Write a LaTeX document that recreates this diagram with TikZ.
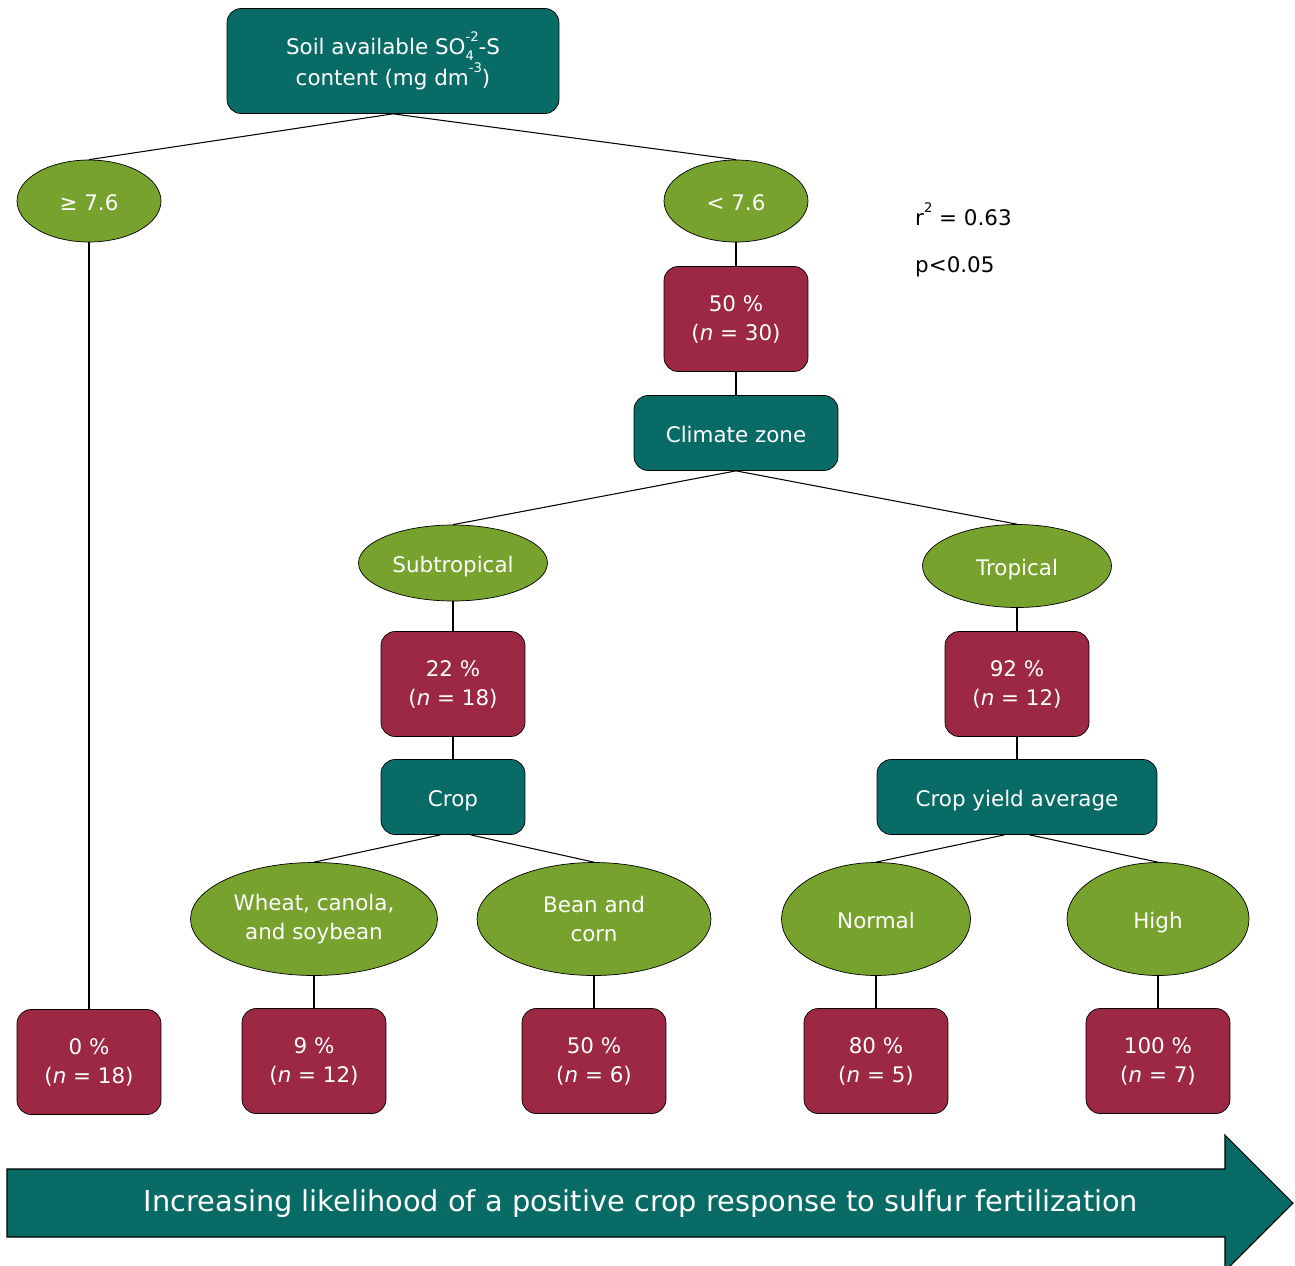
\documentclass[tikz,border=0pt]{standalone}
\usepackage{fontspec}
\setmainfont{DejaVu Sans}
\usetikzlibrary{shapes.geometric}
\definecolor{treeteal}{HTML}{086B66}
\definecolor{treegreen}{HTML}{78A22E}
\definecolor{treered}{HTML}{9C2843}
\newcommand{\upidx}[1]{\raisebox{0.62em}{\fontsize{7.5}{8}\selectfont #1}}
\newcommand{\lowidx}[1]{\raisebox{-0.28em}{\fontsize{7.5}{8}\selectfont #1}}
\begin{document}
\begin{tikzpicture}[x=0.02cm,y=-0.02cm,
every node/.style={font=\fontsize{12.2}{16.5}\selectfont,text=white,align=center},
oneline/.style={text height=11.2pt,text depth=0pt},
factor/.style={draw=black,fill=treeteal,rounded corners=8pt,minimum height=1.5cm,inner sep=0pt},
split/.style={ellipse,draw=black,fill=treegreen,inner sep=0pt},
result/.style={draw=black,fill=treered,rounded corners=8pt,minimum width=2.88cm,minimum height=2.1cm,inner sep=0pt},
link/.style={draw=black,line width=0.6pt}]
\useasboundingbox (0,0) rectangle (1295,1265);
\node [factor,minimum width=6.64cm,minimum height=2.1cm] (soil) at (393,61) {Soil available SO\rlap{\lowidx{4}}\upidx{-2}-S\\content (mg dm\upidx{-3})};
\node [split,oneline,minimum width=2.88cm,minimum height=1.64cm] (hi) at (89,201) {≥ 7.6};
\node [split,oneline,minimum width=2.88cm,minimum height=1.64cm] (lo) at (736,201) {< 7.6};
\node [text=black,anchor=west] (rsq) at (909,214) {r\upidx{2} = 0.63};
\node [text=black,anchor=west] (pval) at (909,267) {p<0.05};
\node [result] (lores) at (736,319) {50 \%\\(\textit{n} = 30)};
\node [factor,oneline,minimum width=4.08cm] (climate) at (736,433) {Climate zone};
\node [split,oneline,minimum width=3.78cm,minimum height=1.52cm] (subtrop) at (453,563) {Subtropical};
\node [split,oneline,minimum width=3.78cm,minimum height=1.66cm] (trop) at (1017,566) {Tropical};
\node [result] (subres) at (453,684) {22 \%\\(\textit{n} = 18)};
\node [result] (tropres) at (1017,684) {92 \%\\(\textit{n} = 12)};
\node [factor,oneline,minimum width=2.88cm] (crop) at (453,797) {Crop};
\node [factor,oneline,minimum width=5.6cm] (yield) at (1017,797) {Crop yield average};
\node [split,minimum width=4.94cm,minimum height=2.26cm] (wheat) at (314,919) {Wheat, canola,\\and soybean};
\node [split,minimum width=4.68cm,minimum height=2.26cm] (bean) at (594,919) {Bean and\\corn};
\node [split,oneline,minimum width=3.78cm,minimum height=2.26cm] (normal) at (876,919) {Normal};
\node [split,oneline,minimum width=3.64cm,minimum height=2.26cm] (high) at (1158,919) {High};
\node [result] (hires) at (89,1062) {0 \%\\(\textit{n} = 18)};
\node [result] (wheatres) at (314,1061) {9 \%\\(\textit{n} = 12)};
\node [result] (beanres) at (594,1061) {50 \%\\(\textit{n} = 6)};
\node [result] (normalres) at (876,1061) {80 \%\\(\textit{n} = 5)};
\node [result] (highres) at (1158,1061) {100 \%\\(\textit{n} = 7)};
\draw [link] (soil.south) -- (hi.north);
\draw [link] (soil.south) -- (lo.north);
\draw [link] (hi.south) -- (hires.north);
\draw [link] (lo.south) -- (lores.north);
\draw [link] (lores.south) -- (climate.north);
\draw [link] (climate.south) -- (subtrop.north);
\draw [link] (climate.south) -- (trop.north);
\draw [link] (subtrop.south) -- (subres.north);
\draw [link] (trop.south) -- (tropres.north);
\draw [link] (subres.south) -- (crop.north);
\draw [link] (tropres.south) -- (yield.north);
\draw [link] ([xshift=-0.25cm]crop.south) -- (wheat.north);
\draw [link] ([xshift=0.35cm]crop.south) -- (bean.north);
\draw [link] ([xshift=-0.25cm]yield.south) -- (normal.north);
\draw [link] ([xshift=0.25cm]yield.south) -- (high.north);
\draw [link] (wheat.south) -- (wheatres.north);
\draw [link] (bean.south) -- (beanres.north);
\draw [link] (normal.south) -- (normalres.north);
\draw [link] (high.south) -- (highres.north);
\filldraw [fill=treeteal,draw=black,line width=0.6pt] (7,1169) -- (1225,1169) -- (1225,1135) -- (1293,1203) -- (1225,1271) -- (1225,1237) -- (7,1237) -- cycle;
\node [font=\fontsize{16.4}{20}\selectfont] (trend) at (641,1204) {Increasing likelihood of a positive crop response to sulfur fertilization};
\end{tikzpicture}
\end{document}
